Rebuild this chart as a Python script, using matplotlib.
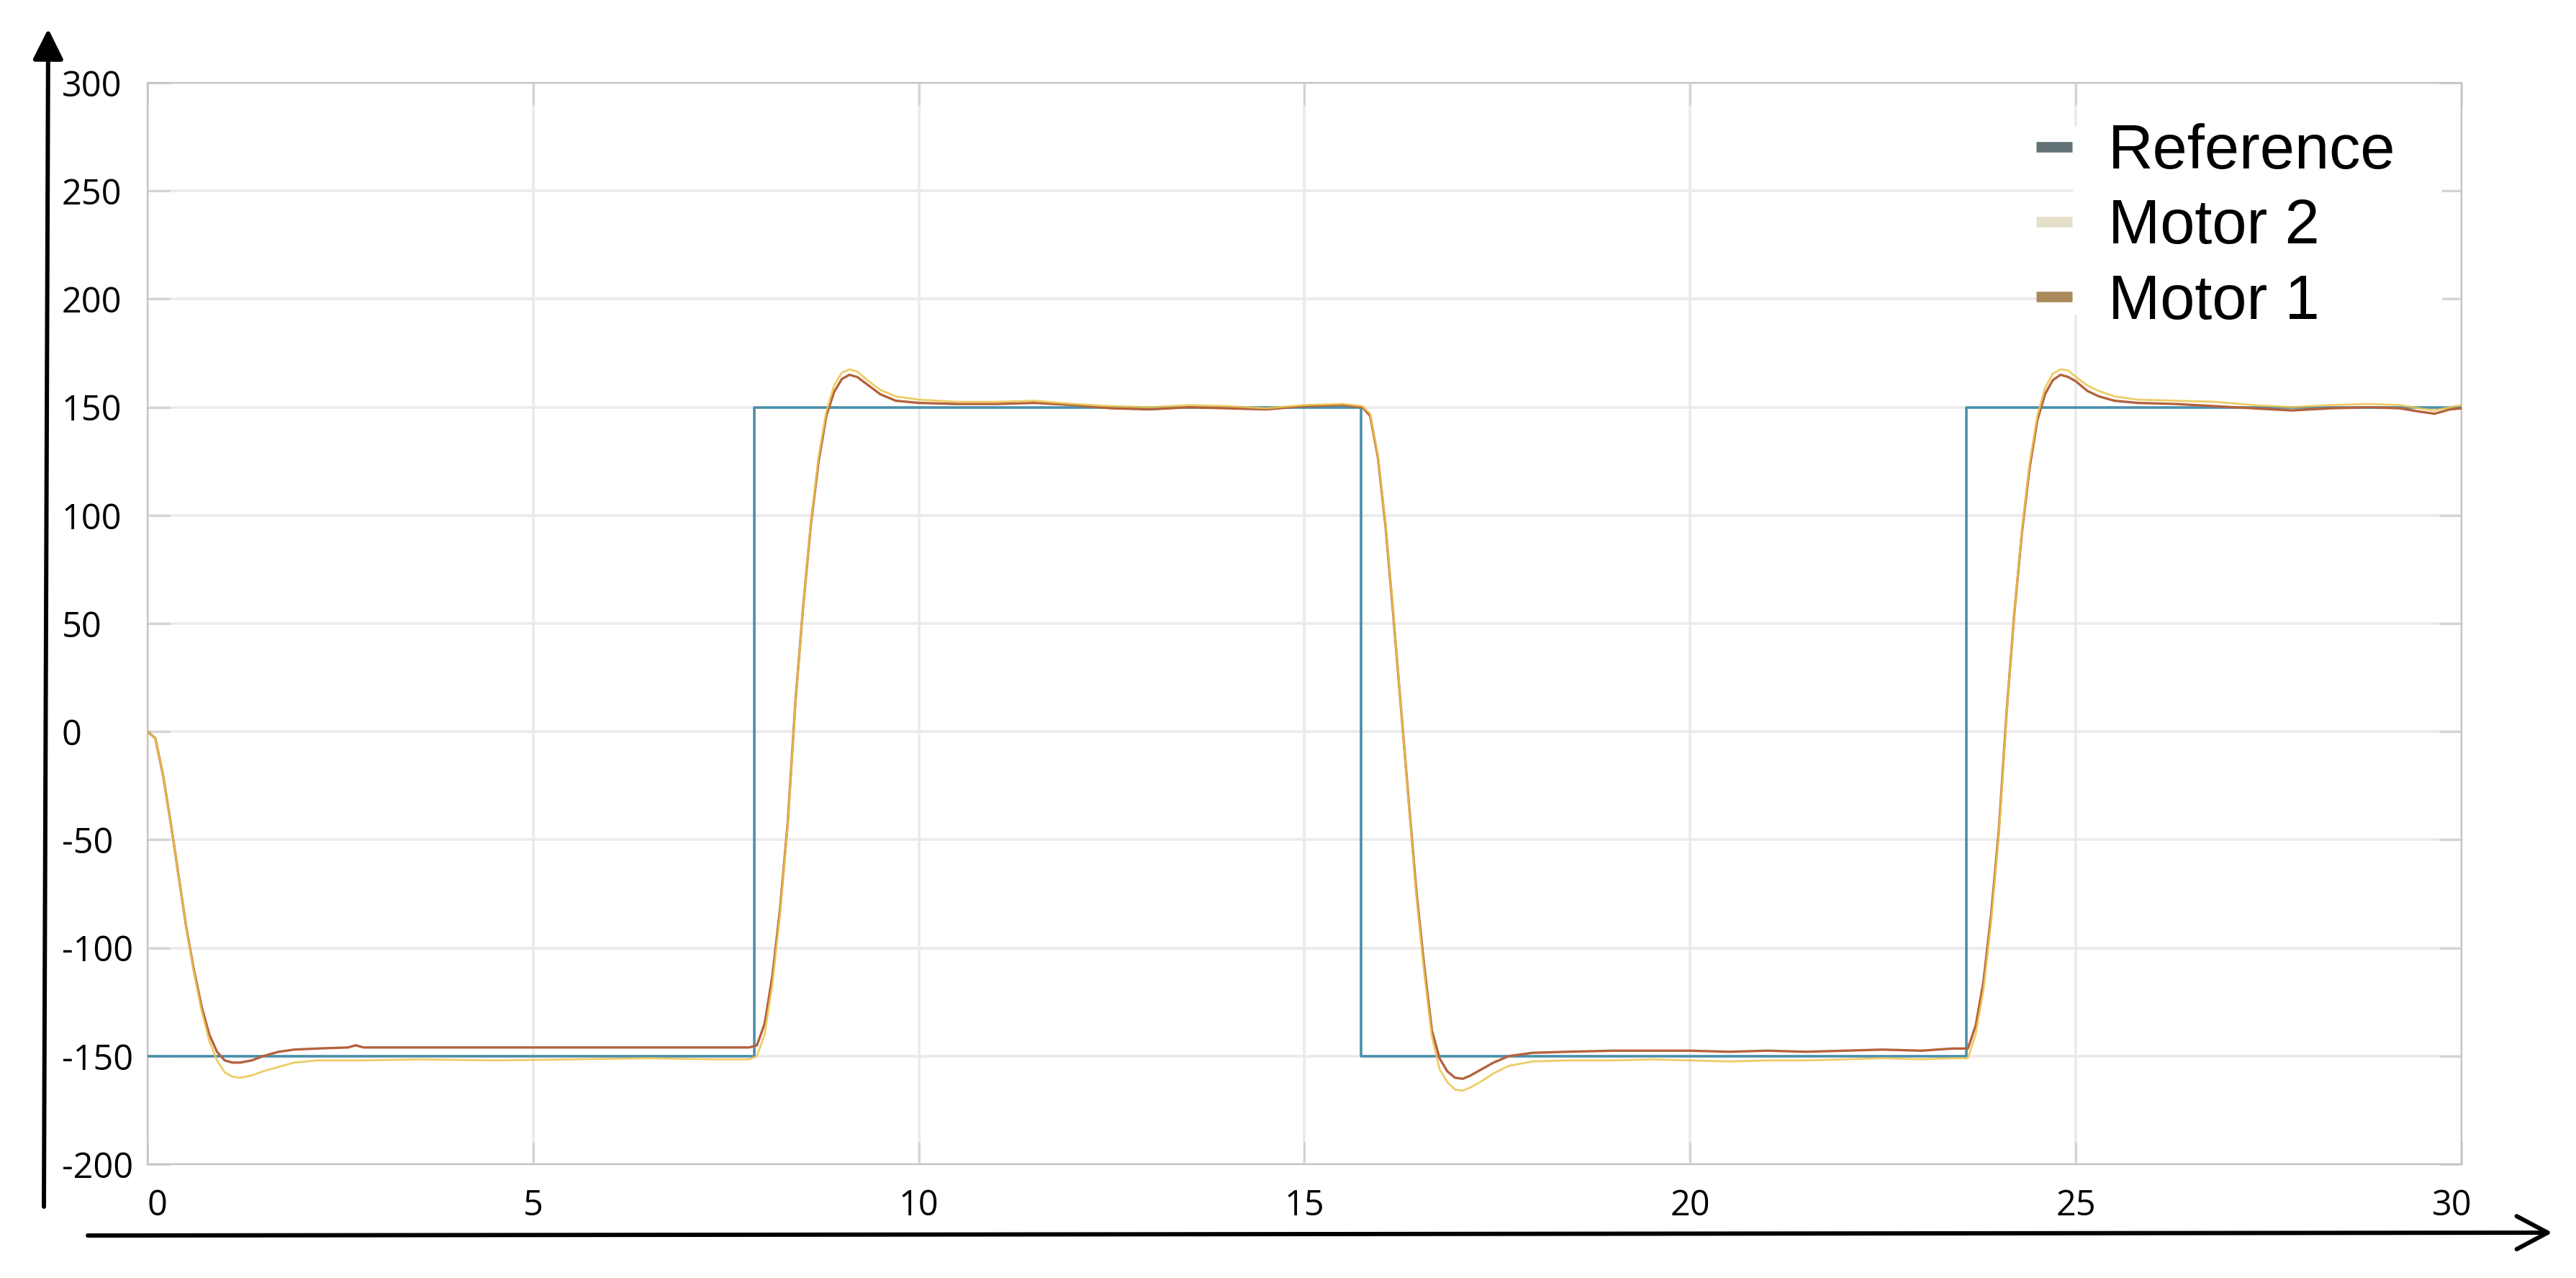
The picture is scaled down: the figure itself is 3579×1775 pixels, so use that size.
import matplotlib
matplotlib.use('Agg')
import matplotlib.pyplot as plt
from matplotlib.lines import Line2D
from matplotlib.patches import FancyArrowPatch, Rectangle
from matplotlib.font_manager import FontProperties
import matplotlib.transforms as mtransforms

plt.rcParams['axes.unicode_minus'] = False

# ---------------- data ----------------
x_ticks = [0, 5, 10, 15, 20, 25, 30]
y_ticks = [-200, -150, -100, -50, 0, 50, 100, 150, 200, 250, 300]

ref_t = [0, 7.87, 15.73, 23.58, 30]
ref_v = [-150, 150, -150, 150, 150]

t_motor = [
    0.0, 0.1, 0.2, 0.3, 0.4, 0.5, 0.6, 0.7, 0.8, 0.9, 1.0, 1.1, 1.2, 1.35, 1.5, 1.7, 1.9, 2.2, 2.6, 2.7, 2.8, 3.5, 4.5, 5.5, 6.5, 7.3, 7.8,
    7.9, 8.0, 8.1, 8.2, 8.3, 8.4, 8.5, 8.6, 8.7, 8.8, 8.9, 9.0, 9.1, 9.2, 9.35, 9.5, 9.7, 10.0, 10.5,
    11.0, 11.5, 12.0, 12.5, 13.0, 13.5, 14.0, 14.5, 15.0, 15.5, 15.75,
    15.85, 15.95, 16.05, 16.15, 16.25, 16.35, 16.45, 16.55, 16.65, 16.75, 16.85, 16.95, 17.05, 17.15, 17.3, 17.45, 17.65, 17.95, 18.4,
    19.0, 19.5, 20.0, 20.5, 21.0, 21.5, 22.0, 22.5, 23.0, 23.4, 23.6,
    23.7, 23.8, 23.9, 24.0, 24.1, 24.2, 24.3, 24.4, 24.5, 24.6, 24.7, 24.8, 24.9, 25.0, 25.15, 25.3, 25.5, 25.8, 26.3,
    26.8, 27.3, 27.8, 28.3, 28.8, 29.2, 29.45, 29.65, 29.85, 30.0,
]

motor1 = [
    0, -3, -20, -42, -66, -90, -110, -127, -140, -148, -152, -153, -153, -152, -150, -148, -147, -146.5, -146, -145, -146, -146, -146, -146, -146, -146, -146,
    -145, -135, -113, -82, -42, 14, 58, 96, 125, 146, 157, 163, 165, 164, 160, 156, 153, 152, 151.5,
    151.5, 152, 151, 149.5, 149, 150, 149.5, 149, 150.5, 151, 150,
    146, 127, 95, 54, 11, -32, -74, -108, -138, -151, -157, -160, -160.5, -159, -156, -153, -150, -148.5, -148,
    -147.5, -147.5, -147.5, -148, -147.5, -148, -147.5, -147, -147.5, -146.5, -146.5,
    -136, -116, -85, -46, 8, 54, 92, 122, 144, 156, 162.5, 165, 164, 162, 157.5, 155, 153, 152, 151.5,
    150.5, 149.5, 148.5, 149.5, 150, 149.5, 148, 147, 149, 149.5,
]

motor2 = [
    0, -3, -20, -42, -66, -90, -111, -129, -143, -152, -157.5, -159.5, -160, -159, -157, -155, -153, -152, -152, -152, -152, -151.5, -152, -151.5, -151, -151.5, -151.5,
    -150, -140, -117, -84, -43, 13, 58, 97, 127, 148, 160, 166, 167.5, 166.5, 162, 158, 155, 153.5, 152.5,
    152.5, 153, 151.5, 150.5, 150, 151, 150.5, 149.5, 151, 151.5, 150.5,
    147, 128, 96, 55, 11, -33, -76, -111, -141, -156, -162, -165.5, -166, -164.5, -161.5, -158, -154.5, -152.5, -152,
    -152, -151.5, -152, -152.5, -152, -152, -151.5, -151, -151.5, -151, -151,
    -140, -120, -88, -48, 7, 54, 93, 124, 146, 159, 165.5, 167.5, 167, 164, 160, 157.5, 155, 153.5, 153,
    152.5, 151, 150, 151, 151.5, 151, 149.5, 148.5, 150, 151,
]

legend_labels = ["Reference", "Motor 2", "Motor 1"]
legend_colors = ["#627275", "#e3dfc9", "#a98a5b"]

assert len(t_motor) == len(motor1) == len(motor2)

# ---------------- figure ----------------
W, H = 3580, 1775
fig = plt.figure(figsize=(W / 100, H / 100), dpi=100)
fig.patch.set_facecolor('white')

L, R, T, B = 205, 3420, 115, 1617
ax = fig.add_axes([L / W, 1 - B / H, (R - L) / W, (B - T) / H])
ax.set_xlim(0, 30)
ax.set_ylim(-200, 300)
ax.set_xticks(x_ticks)
ax.set_yticks(y_ticks)
ax.grid(True, color='#eaeaea', lw=2.6)
ax.set_axisbelow(True)
for s in ax.spines.values():
    s.set_color('#c4c4c4')
    s.set_linewidth(1.6)

ax.tick_params(direction='in', length=22, width=2.2, color='#d4d4d4',
               top=True, right=True, labelsize=35)
ax.tick_params(axis='y', pad=86)
ax.tick_params(axis='x', pad=24)
for lab in ax.get_yticklabels() + ax.get_xticklabels():
    lab.set_fontfamily('Open Sans')
for lab in ax.get_yticklabels():
    lab.set_horizontalalignment('left')
xl = ax.get_xticklabels()
xl[0].set_transform(xl[0].get_transform() + mtransforms.ScaledTranslation(0.13, 0, fig.dpi_scale_trans))
xl[-1].set_transform(xl[-1].get_transform() + mtransforms.ScaledTranslation(-0.13, 0, fig.dpi_scale_trans))

# white box behind legend text (covers grid)
ax.add_patch(Rectangle(((2880 - L) / (R - L), (B - 437) / (B - T)),
                       (3393 - 2880) / (R - L), (437 - 175) / (B - T),
                       transform=ax.transAxes, facecolor='white', edgecolor='none', zorder=1.5))

# ---------------- lines ----------------
ax.plot(ref_t, ref_v, drawstyle='steps-post', color='#4b8fab', lw=2.6, zorder=3)
ax.plot(t_motor, motor1, color='#b4623c', lw=2.4, zorder=4)
ax.plot(t_motor, motor2, color='#ecc44c', lw=2.0, alpha=0.85, zorder=5)

# ---------------- legend ----------------
handles = [Line2D([], [], color=c, lw=10.5, solid_capstyle='butt') for c in legend_colors]
fig.legend(handles, legend_labels, loc='upper left',
           bbox_to_anchor=(2829 / W, 1 - 171 / H), frameon=False,
           prop=FontProperties(family='Liberation Sans', size=62.4),
           handlelength=0.58, handletextpad=0.57, labelspacing=0.27,
           borderpad=0, borderaxespad=0)

# ---------------- hand-drawn axis arrows ----------------
fig.add_artist(FancyArrowPatch((61 / W, 1 - 1676 / H), (67 / W, 1 - 40 / H),
                               transform=fig.transFigure,
                               arrowstyle='-|>,head_length=26,head_width=13',
                               mutation_scale=1, lw=4.3, color='black',
                               shrinkA=0, shrinkB=0))
fig.add_artist(FancyArrowPatch((122 / W, 1 - 1716 / H), (3546 / W, 1 - 1712 / H),
                               transform=fig.transFigure,
                               arrowstyle='->,head_length=31,head_width=16.5',
                               mutation_scale=1, lw=4.3, color='black',
                               shrinkA=0, shrinkB=0))

fig.savefig('out.png', dpi=100, facecolor='white')
